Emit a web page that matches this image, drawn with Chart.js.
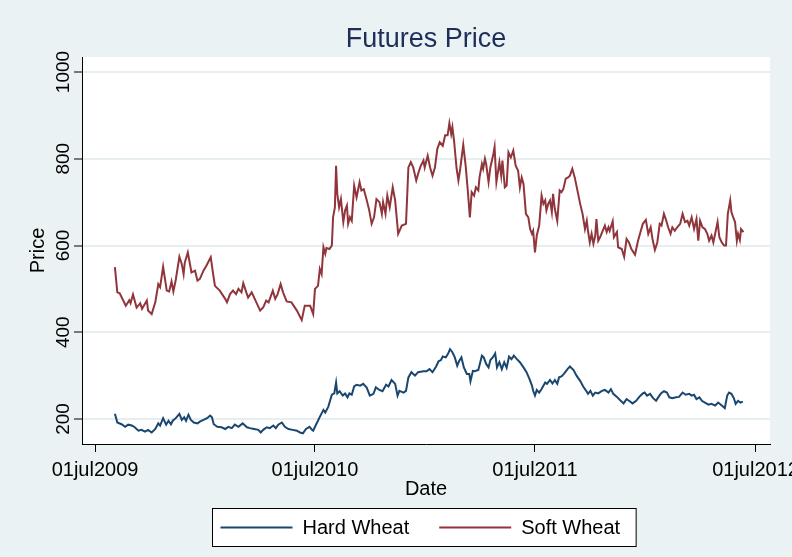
<!DOCTYPE html>
<html>
<head>
<meta charset="utf-8">
<title>Futures Price</title>
<script src="https://cdn.jsdelivr.net/npm/chart.js@4.4.1/dist/chart.umd.min.js"></script>
<style>
  html, body { margin: 0; padding: 0; background: #eaf2f3; }
  #wrap { width: 792px; height: 557px; }
</style>
</head>
<body>
<div id="wrap"><canvas id="myChart" width="792" height="557"></canvas></div>
<script>
// Days counted from 01jul2009
var hardDay = [33, 37, 44, 50, 55, 61, 66, 72, 77, 83, 88, 94, 100, 105, 108, 113, 118, 122, 126, 129,
  134, 140, 144, 148, 151, 155, 159, 164, 170, 174, 180, 186, 191, 194, 197, 203, 210, 216, 221, 227,
  232, 238, 245, 252, 257, 264, 271, 275, 279, 285, 290, 296, 300, 304, 310, 315, 321, 328, 335, 340,
  345, 350, 356, 360, 362, 367, 370, 373, 379, 382, 387, 393, 397, 400, 402, 406, 411, 415, 419, 422,
  426, 430, 434, 440, 445, 451, 456, 462, 466, 472, 477, 483, 487, 492, 498, 502, 505, 512, 516, 520,
  525, 531, 536, 545, 550, 555, 560, 566, 570, 574, 577, 582, 586, 589, 593, 597, 601, 604, 608, 612,
  617, 621, 623, 627, 630, 636, 642, 645, 649, 653, 656, 660, 664, 667, 671, 675, 679, 683, 687, 691,
  695, 700, 705, 711, 716, 721, 725, 727, 730, 733, 737, 741, 747, 750, 755, 759, 763, 767, 770, 774,
  778, 784, 788, 794, 799, 805, 810, 815, 818, 822, 826, 830, 835, 841, 846, 852, 856, 860, 866, 871,
  877, 882, 886, 892, 898, 903, 909, 912, 916, 921, 926, 931, 935, 939, 944, 949, 953, 958, 964, 969,
  975, 980, 986, 990, 994, 998, 1003, 1007, 1012, 1018, 1023, 1029, 1034, 1040, 1045, 1049, 1052, 1056, 1060, 1063,
  1067, 1071, 1075];
var hardPrice = [212, 192, 188, 182, 187, 185, 181, 173, 175, 171, 175, 169, 177, 190, 185, 202, 187, 196, 188, 196,
  202, 212, 198, 204, 196, 210, 198, 192, 190, 194, 198, 202, 208, 204, 188, 182, 181, 177, 182, 179,
  187, 182, 190, 181, 179, 177, 175, 169, 175, 181, 179, 185, 179, 187, 192, 182, 177, 175, 173, 169,
  167, 177, 182, 175, 173, 188, 196, 205, 221, 215, 228, 256, 259, 284, 259, 264, 254, 259, 250, 259,
  256, 275, 279, 277, 281, 272, 254, 258, 273, 267, 264, 279, 275, 290, 281, 254, 265, 261, 265, 296,
  308, 300, 308, 310, 310, 315, 308, 321, 333, 336, 344, 342, 351, 361, 354, 342, 323, 333, 342, 319,
  304, 304, 287, 311, 310, 313, 346, 342, 327, 319, 336, 342, 351, 319, 331, 315, 331, 318, 344, 338,
  346, 338, 331, 319, 308, 292, 277, 265, 254, 267, 261, 269, 284, 281, 290, 282, 290, 281, 296, 298,
  304, 315, 321, 313, 300, 288, 275, 265, 258, 265, 254, 261, 259, 265, 267, 261, 269, 258, 251, 244,
  236, 246, 242, 236, 242, 251, 259, 261, 254, 258, 248, 242, 251, 259, 264, 261, 250, 248, 250, 251,
  261, 256, 258, 254, 256, 246, 250, 242, 238, 233, 235, 231, 238, 231, 225, 254, 261, 258, 248, 235,
  242, 238, 240];

var softDay = [33, 37, 41, 51, 57, 59, 63, 69, 75, 78, 86, 88, 94, 100, 105, 108, 113, 119, 123, 127,
  130, 134, 140, 144, 147, 149, 154, 158, 160, 166, 170, 174, 180, 185, 189, 192, 196, 199, 207, 216,
  219, 224, 229, 234, 238, 243, 246, 251, 254, 260, 265, 274, 279, 284, 288, 295, 299, 303, 308, 312,
  318, 326, 335, 343, 348, 357, 362, 365, 370, 373, 376, 379, 382, 384, 389, 393, 395, 398, 400, 402,
  405, 408, 412, 415, 418, 420, 423, 426, 430, 434, 439, 442, 446, 451, 455, 459, 463, 467, 472, 476,
  478, 482, 485, 489, 494, 498, 503, 509, 516, 520, 524, 528, 533, 536, 540, 545, 547, 552, 556, 560,
  564, 568, 572, 577, 581, 585, 588, 591, 593, 596, 600, 603, 606, 611, 615, 619, 622, 625, 629, 632,
  636, 638, 642, 644, 647, 649, 653, 656, 661, 663, 666, 671, 674, 676, 680, 683, 686, 690, 694, 698,
  702, 705, 708, 711, 715, 719, 722, 725, 727, 730, 733, 737, 741, 744, 747, 749, 752, 755, 758, 760,
  763, 767, 771, 774, 777, 781, 785, 788, 792, 796, 800, 805, 809, 813, 816, 818, 821, 824, 827, 830,
  832, 835, 838, 846, 849, 852, 854, 859, 861, 866, 868, 874, 878, 882, 886, 890, 896, 901, 909, 914,
  918, 922, 925, 929, 933, 937, 940, 944, 947, 951, 955, 958, 962, 966, 971, 975, 979, 983, 986, 990,
  994, 998, 1001, 1004, 1008, 1012, 1016, 1019, 1023, 1026, 1029, 1033, 1036, 1040, 1044, 1047, 1050, 1054, 1056, 1059,
  1062, 1065, 1067, 1070, 1072, 1076];
var softPrice = [550, 492, 490, 461, 474, 467, 487, 457, 467, 454, 473, 450, 442, 469, 511, 504, 551, 496, 494, 517,
  494, 521, 574, 557, 534, 561, 584, 554, 538, 542, 519, 523, 542, 554, 565, 573, 534, 507, 496, 477,
  469, 488, 496, 488, 500, 492, 513, 492, 480, 492, 477, 450, 457, 473, 469, 496, 477, 488, 511, 492,
  471, 469, 450, 428, 461, 461, 442, 500, 507, 546, 534, 596, 581, 594, 592, 600, 665, 688, 784, 719,
  688, 707, 654, 681, 692, 650, 665, 657, 738, 711, 746, 727, 730, 704, 681, 650, 665, 707, 700, 673,
  700, 673, 715, 688, 734, 704, 627, 646, 650, 780, 792, 780, 750, 765, 782, 796, 780, 807, 780, 761,
  780, 823, 838, 830, 854, 854, 882, 857, 873, 838, 777, 750, 777, 832, 784, 719, 665, 723, 715, 734,
  727, 757, 788, 777, 800, 788, 746, 780, 811, 827, 746, 792, 761, 796, 734, 738, 815, 803, 819, 784,
  773, 734, 757, 742, 673, 665, 638, 627, 634, 584, 623, 646, 715, 696, 704, 681, 696, 704, 677, 719,
  684, 657, 727, 723, 730, 754, 757, 761, 777, 757, 730, 696, 673, 638, 657, 634, 607, 627, 604, 623,
  661, 611, 619, 646, 631, 642, 634, 656, 619, 631, 596, 592, 574, 615, 607, 592, 579, 611, 650, 659,
  627, 642, 615, 590, 607, 650, 646, 673, 661, 642, 627, 642, 634, 642, 650, 673, 654, 657, 646, 665,
  638, 661, 611, 657, 642, 638, 627, 611, 623, 607, 627, 654, 619, 607, 600, 600, 673, 704, 677, 665,
  654, 611, 627, 613, 638, 631];

var seriesNames = ["Hard Wheat", "Soft Wheat"];
var seriesColors = ["#1a476f", "#90353b"];

var priceTicks = [200, 400, 600, 800, 1000];
var dateTickDays = [0, 365, 730, 1096];
var dateTickLabels = ["01jul2009", "01jul2010", "01jul2011", "01jul2012"];

Chart.defaults.font.family = "'Liberation Sans', Arial, sans-serif";
Chart.defaults.color = "#000";

function toPoints(days, values) {
  return days.map(function (d, i) { return { x: d, y: values[i] }; });
}

// background + white plot region, then title and legend box on top
var stataLook = {
  id: "stataLook",
  beforeDraw: function (chart) {
    var c = chart.ctx, a = chart.chartArea;
    c.save();
    c.fillStyle = "#eaf2f3";
    c.fillRect(0, 0, chart.width, chart.height);
    c.fillStyle = "#ffffff";
    c.fillRect(a.left, a.top, a.right - a.left, a.bottom - a.top);
    c.restore();
  },
  afterDraw: function (chart) {
    var c = chart.ctx, a = chart.chartArea;
    var mid = (a.left + a.right) / 2;
    c.save();
    // title
    c.fillStyle = "#1e2d5a";
    c.font = "27px 'Liberation Sans', Arial, sans-serif";
    c.textAlign = "center";
    c.textBaseline = "middle";
    c.fillText("Futures Price", mid, 40);

    // legend
    c.font = "20px 'Liberation Sans', Arial, sans-serif";
    var lineLen = 72, gap = 10, itemGap = 30, padL = 8, padR = 16;
    var widths = chart.data.datasets.map(function (ds) { return c.measureText(ds.label).width; });
    var boxW = padL + padR + itemGap * (widths.length - 1);
    widths.forEach(function (w) { boxW += lineLen + gap + w; });
    var boxX = Math.round(mid - 2 - boxW / 2) + 0.5, boxY = 508.5, boxH = 38;
    c.fillStyle = "#ffffff";
    c.fillRect(boxX, boxY, boxW, boxH);
    c.strokeStyle = "#000";
    c.lineWidth = 1;
    c.strokeRect(boxX, boxY, boxW, boxH);
    var x = boxX + padL, y = boxY + boxH / 2;
    chart.data.datasets.forEach(function (ds, i) {
      c.strokeStyle = ds.borderColor;
      c.lineWidth = 2;
      c.beginPath();
      c.moveTo(x, y);
      c.lineTo(x + lineLen, y);
      c.stroke();
      c.fillStyle = "#000";
      c.textAlign = "left";
      c.fillText(ds.label, x + lineLen + gap, y + 1);
      x += lineLen + gap + widths[i] + itemGap;
    });
    c.restore();
  }
};

var ctx = document.getElementById("myChart").getContext("2d");
var myChart = new Chart(ctx, {
  type: "line",
  data: {
    datasets: [{
      label: seriesNames[0],
      data: toPoints(hardDay, hardPrice),
      borderColor: seriesColors[0],
      borderWidth: 2,
      pointRadius: 0,
      tension: 0
    }, {
      label: seriesNames[1],
      data: toPoints(softDay, softPrice),
      borderColor: seriesColors[1],
      borderWidth: 2,
      pointRadius: 0,
      tension: 0
    }]
  },
  options: {
    responsive: false,
    animation: false,
    layout: { padding: { left: 0, top: 57, right: 22, bottom: 56 } },
    plugins: {
      legend: { display: false },
      title: { display: false },
      tooltip: { enabled: false }
    },
    scales: {
      x: {
        type: "linear",
        min: -21.6,
        max: 1120,
        afterBuildTicks: function (scale) {
          scale.ticks = dateTickDays.map(function (v) { return { value: v }; });
        },
        afterFit: function (scale) {
          scale.height = 57;
          scale.paddingLeft = 0;
          scale.paddingRight = 0;
        },
        ticks: {
          autoSkip: false,
          maxRotation: 0,
          minRotation: 0,
          padding: 6,
          font: { size: 20 },
          callback: function (v) {
            var i = dateTickDays.indexOf(v);
            return i >= 0 ? dateTickLabels[i] : "";
          }
        },
        grid: { drawOnChartArea: false, tickLength: 8, tickColor: "#000" },
        border: { color: "#000", width: 1 },
        title: { display: true, text: "Date", font: { size: 20 }, padding: 0 }
      },
      y: {
        min: 142.4,
        max: 1034.6,
        afterBuildTicks: function (scale) {
          scale.ticks = priceTicks.map(function (v) { return { value: v }; });
        },
        afterFit: function (scale) {
          scale.width = 82;
          scale.paddingTop = 0;
          scale.paddingBottom = 0;
        },
        ticks: {
          minRotation: 90,
          maxRotation: 90,
          crossAlign: "center",
          padding: -11,
          font: { size: 19 },
          callback: function (v) { return String(v); }
        },
        grid: { color: "#e6eef0", lineWidth: 2, tickLength: 8, tickColor: "#000", tickWidth: 1 },
        border: { color: "#000", width: 1 },
        title: { display: true, text: "Price", font: { size: 20 }, padding: { top: 26, bottom: 0 } }
      }
    }
  },
  plugins: [stataLook]
});
</script>
</body>
</html>
